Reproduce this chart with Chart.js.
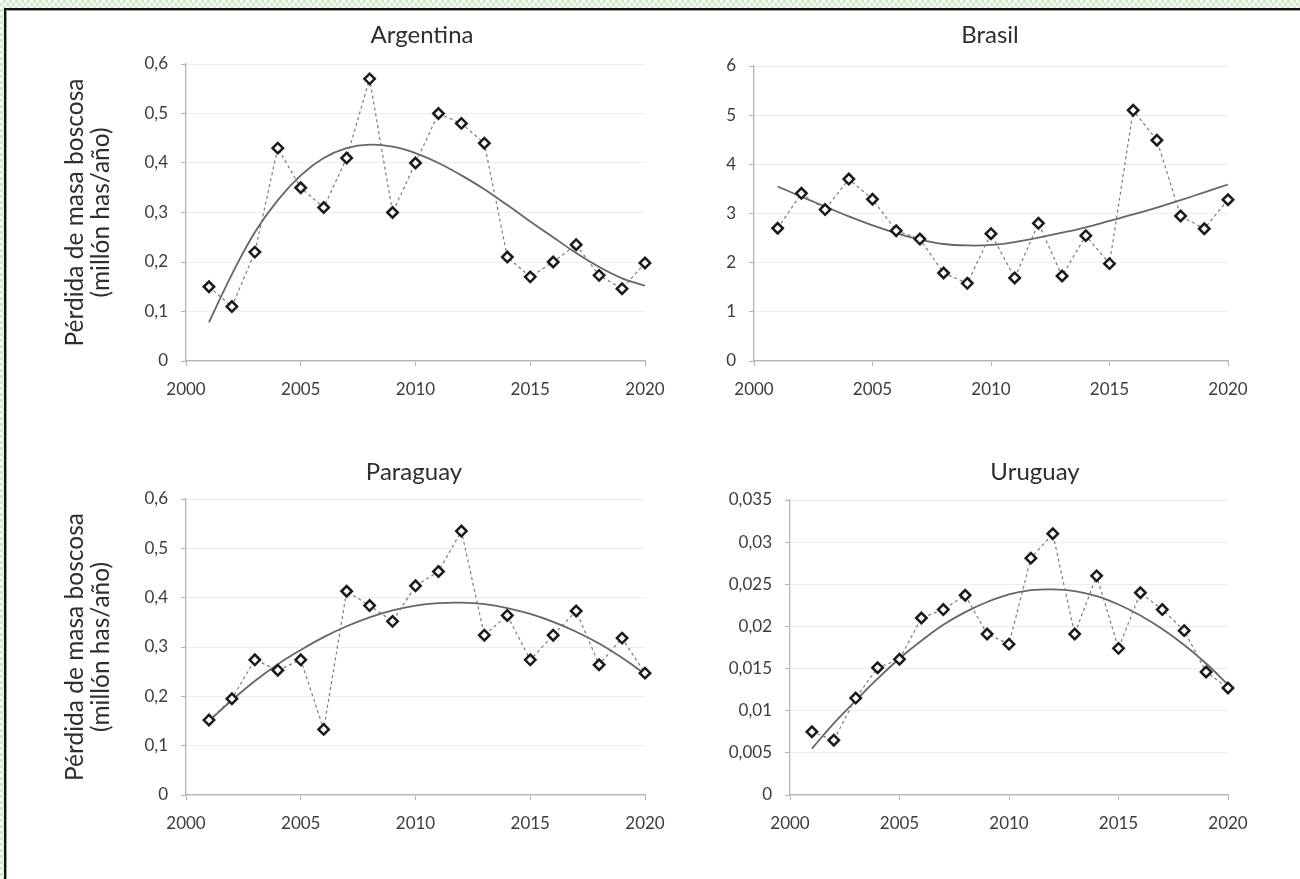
<!DOCTYPE html>
<html>
<head>
<meta charset="utf-8">
<script src="https://cdn.jsdelivr.net/npm/chart.js@4.4.1/dist/chart.umd.min.js"></script>
<style>
html, body { margin: 0; padding: 0; width: 1300px; height: 879px; overflow: hidden; }
body {
    position: relative;
    background: repeating-conic-gradient(#c8efc0 0 25%, #fff 0 50%) 0 0 / 6px 6px;
}
#frame {
    position: absolute; left: 4px; top: 8px; width: 1320px; height: 900px;
    background: #fff;
    border-top: 2px solid #111; border-left: 2px solid #111;
    box-shadow: inset 1px 1px 0 #a0a0a0;
}
canvas { position: absolute; }
</style>
</head>
<body>
<div id="frame"></div>
<canvas id="argentina"></canvas>
<canvas id="brasil"></canvas>
<canvas id="paraguay"></canvas>
<canvas id="uruguay"></canvas>
<script>
// years on the x axis
const years = [2001, 2002, 2003, 2004, 2005, 2006, 2007, 2008, 2009, 2010,
               2011, 2012, 2013, 2014, 2015, 2016, 2017, 2018, 2019, 2020];
const xTicks = [2000, 2005, 2010, 2015, 2020];

// forest loss, million ha / year
const argentina = [0.15, 0.11, 0.22, 0.43, 0.35, 0.31, 0.41, 0.57, 0.30, 0.40,
                   0.50, 0.48, 0.44, 0.21, 0.17, 0.20, 0.235, 0.173, 0.146, 0.198];
const argentinaTrend = [0.078, 0.175, 0.26, 0.325, 0.375, 0.41, 0.43, 0.437, 0.433, 0.42,
                        0.40, 0.375, 0.347, 0.315, 0.282, 0.25, 0.218, 0.19, 0.167, 0.152];
const argentinaTicks = [0, 0.1, 0.2, 0.3, 0.4, 0.5, 0.6];

const brasil = [2.70, 3.41, 3.08, 3.70, 3.29, 2.65, 2.48, 1.79, 1.58, 2.59,
                1.69, 2.80, 1.73, 2.55, 1.98, 5.10, 4.49, 2.95, 2.69, 3.28];
const brasilTrend = [3.55, 3.34, 3.14, 2.94, 2.76, 2.60, 2.47, 2.38, 2.35, 2.36,
                     2.42, 2.51, 2.61, 2.72, 2.85, 2.98, 3.12, 3.27, 3.43, 3.59];
const brasilTicks = [0, 1, 2, 3, 4, 5, 6];

const paraguay = [0.152, 0.195, 0.274, 0.253, 0.274, 0.133, 0.413, 0.384, 0.352, 0.424,
                  0.453, 0.535, 0.324, 0.364, 0.274, 0.324, 0.373, 0.264, 0.318, 0.247];
const paraguayTrend = [0.150, 0.192, 0.231, 0.265, 0.294, 0.320, 0.342, 0.360, 0.374, 0.384,
                       0.389, 0.390, 0.387, 0.379, 0.367, 0.351, 0.331, 0.307, 0.278, 0.245];
const paraguayTicks = [0, 0.1, 0.2, 0.3, 0.4, 0.5, 0.6];

const uruguay = [0.0075, 0.0065, 0.0115, 0.0151, 0.0161, 0.0210, 0.0220, 0.0237, 0.0191, 0.0179,
                 0.0281, 0.0310, 0.0191, 0.0260, 0.0174, 0.0240, 0.0220, 0.0195, 0.0146, 0.0127];
const uruguayTrend = [0.0055, 0.0085, 0.0112, 0.0138, 0.0162, 0.0183, 0.0202, 0.0217, 0.0229, 0.0238,
                      0.0243, 0.0244, 0.0242, 0.0236, 0.0226, 0.0213, 0.0197, 0.0178, 0.0156, 0.0131];
const uruguayTicks = [0, 0.005, 0.01, 0.015, 0.02, 0.025, 0.03, 0.035];

const yTitle = ['Pérdida de masa boscosa', '(millón has/año)'];

const FONT = 'Lato, "Open Sans", sans-serif';
const TEXT = '#3c3c3c';
const AXIS = '#b4b4b4';

function decimalComma(v) {
    return String(Number(v.toFixed(4))).replace('.', ',');
}

function makePanel(id, box, area, titlePos, title, values, trend, ticks, withYTitle) {
    const canvas = document.getElementById(id);
    canvas.width = box.w;
    canvas.height = box.h;
    canvas.style.width = box.w + 'px';
    canvas.style.height = box.h + 'px';
    canvas.style.left = box.x + 'px';
    canvas.style.top = box.y + 'px';

    const left = area.l - box.x;
    const right = box.x + box.w - area.r;
    const top = area.t - box.y;
    const bottom = box.y + box.h - area.b;
    const titleSize = 24;
    const titleLine = titleSize * 1.2;
    const titlePadTop = (titlePos.y - box.y) - titleLine / 2;

    new Chart(canvas, {
        type: 'line',
        data: {
            datasets: [
                {
                    data: years.map((y, i) => ({ x: y, y: values[i] })),
                    borderColor: '#7a7a7a',
                    borderWidth: 1.2,
                    borderDash: [3, 3],
                    pointStyle: 'rectRot',
                    pointRadius: 5.2,
                    pointBorderWidth: 2.5,
                    pointBorderColor: '#1a1a1a',
                    pointBackgroundColor: '#fff',
                    tension: 0,
                    clip: false,
                    order: 1
                },
                {
                    data: years.map((y, i) => ({ x: y, y: trend[i] })),
                    borderColor: '#666',
                    borderWidth: 1.8,
                    pointRadius: 0,
                    tension: 0.4,
                    clip: false,
                    order: 2
                }
            ]
        },
        options: {
            responsive: false,
            animation: false,
            layout: { padding: { left: 0, top: 0, right: right, bottom: 0 } },
            plugins: {
                legend: { display: false },
                tooltip: { enabled: false },
                title: {
                    display: true,
                    text: title,
                    color: '#2e2e2e',
                    font: { family: FONT, size: titleSize, weight: 'normal', lineHeight: 1.2 },
                    padding: { top: titlePadTop, bottom: top - titlePadTop - titleLine }
                }
            },
            scales: {
                x: {
                    type: 'linear',
                    min: 2000,
                    max: 2020,
                    afterBuildTicks: s => { s.ticks = xTicks.map(v => ({ value: v })); },
                    afterFit: s => { s.height = bottom; },
                    ticks: {
                        color: TEXT,
                        font: { family: FONT, size: 17 },
                        padding: 13,
                        maxRotation: 0,
                        callback: v => String(v)
                    },
                    grid: { drawOnChartArea: false, drawTicks: true, tickLength: 5, color: AXIS },
                    border: { color: AXIS, width: 1.3 }
                },
                y: {
                    min: ticks[0],
                    max: ticks[ticks.length - 1],
                    afterBuildTicks: s => { s.ticks = ticks.map(v => ({ value: v })); },
                    afterFit: s => { s.width = left; },
                    ticks: {
                        color: TEXT,
                        font: { family: FONT, size: 17 },
                        padding: 13,
                        callback: decimalComma
                    },
                    grid: { color: '#ededed', tickColor: AXIS, tickLength: 5 },
                    border: { color: AXIS, width: 1.3 },
                    title: {
                        display: withYTitle,
                        text: yTitle,
                        color: '#2e2e2e',
                        font: { family: FONT, size: 24.5, lineHeight: '26px' },
                        padding: { top: 62, bottom: 0 }
                    }
                }
            }
        },
        plugins: [{
            // centre the panel title where the original figure has it
            id: 'titleShift',
            afterLayout(chart) {
                const t = chart.titleBlock;
                if (!t) return;
                const cx = titlePos.x - box.x;
                t.left = cx - 150;
                t.right = cx + 150;
            }
        }]
    });
}

makePanel('argentina', { x: 0, y: 0, w: 690, h: 420 }, { l: 186, r: 645, t: 64, b: 361 },
          { x: 422, y: 35 }, 'Argentina', argentina, argentinaTrend, argentinaTicks, true);
makePanel('brasil', { x: 690, y: 0, w: 600, h: 420 }, { l: 754, r: 1228, t: 66, b: 361 },
          { x: 990, y: 35 }, 'Brasil', brasil, brasilTrend, brasilTicks, false);
makePanel('paraguay', { x: 0, y: 420, w: 690, h: 440 }, { l: 186, r: 645, t: 499, b: 795 },
          { x: 414, y: 472 }, 'Paraguay', paraguay, paraguayTrend, paraguayTicks, true);
makePanel('uruguay', { x: 690, y: 420, w: 600, h: 440 }, { l: 790, r: 1228, t: 500, b: 795 },
          { x: 1035, y: 472 }, 'Uruguay', uruguay, uruguayTrend, uruguayTicks, false);
</script>
</body>
</html>
